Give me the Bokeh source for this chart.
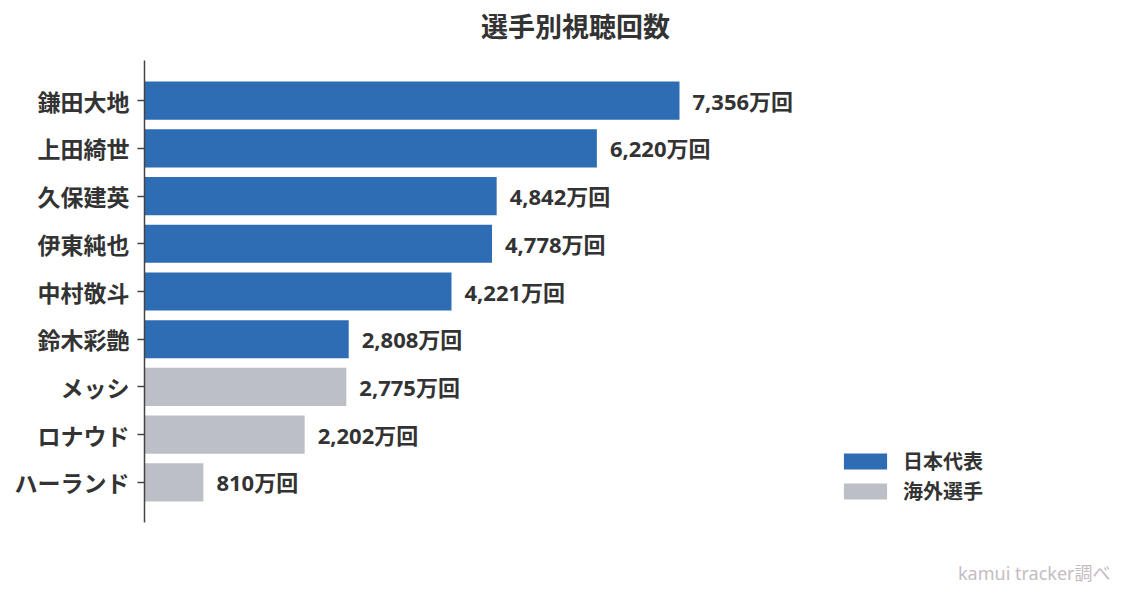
from bokeh.plotting import figure
from bokeh.models import (ColumnDataSource, Range1d, FixedTicker, LabelSet, Legend,
                          LegendItem, Title)
from bokeh.core.properties import value
from bokeh.embed import file_html
from bokeh.resources import INLINE

players = ["鎌田大地", "上田綺世", "久保建英", "伊東純也", "中村敬斗", "鈴木彩艶",
           "メッシ", "ロナウド", "ハーランド"]
views = [7356, 6220, 4842, 4778, 4221, 2808, 2775, 2202, 810]
groups = ["日本代表"] * 6 + ["海外選手"] * 3
group_colors = {"日本代表": "#2e6db4", "海外選手": "#bcbfc6"}
chart_title = "選手別視聴回数"
source_note = "kamui tracker調べ"

FONT = "Noto Sans CJK JP"
NUMFONT = "Noto Sans, Noto Sans CJK JP"
TXT = "#333333"

idx = list(range(len(players)))
labels = [f"{v:,}万回" for v in views]

src = ColumnDataSource(dict(y=idx, v=views, lab=labels))

p = figure(width=1124, height=600, output_backend="svg", toolbar_location=None,
           x_range=Range1d(0, 11852), y_range=Range1d(8.84, -0.84),
           min_border_left=144, min_border_right=118, min_border_top=60,
           min_border_bottom=78, title=chart_title)
p.outline_line_color = None
p.grid.visible = False
p.xaxis.visible = False
p.background_fill_color = "white"
p.border_fill_color = "white"

p.title.align = "center"
p.title.vertical_align = "bottom"
p.title.standoff = 2
p.title.text_font = FONT
p.title.text_font_size = "27px"
p.title.text_font_style = "bold"
p.title.text_color = TXT

# small spacer between the title and the frame
top_spacer = Title(text=" ", text_font_size="10px", standoff=2)
p.add_layout(top_spacer, "above")

renderers = {}
for g in ["日本代表", "海外選手"]:
    sub = ColumnDataSource(dict(
        y=[i for i, gg in zip(idx, groups) if gg == g],
        v=[v for v, gg in zip(views, groups) if gg == g]))
    renderers[g] = p.hbar(y="y", right="v", left=0, height=0.8, source=sub,
                          fill_color=group_colors[g], line_color=None)

ya = p.yaxis[0]
ya.ticker = FixedTicker(ticks=idx)
ya.major_label_overrides = {i: n for i, n in zip(idx, players)}
ya.major_label_text_font = FONT
ya.major_label_text_font_size = "23px"
ya.major_label_text_font_style = "bold"
ya.major_label_text_color = TXT
ya.axis_line_color = "#444444"
ya.axis_line_width = 1.5
ya.major_tick_line_color = "#444444"
ya.major_tick_line_width = 1.5
ya.major_tick_out = 7
ya.major_tick_in = 0
ya.minor_tick_line_color = None
ya.major_label_standoff = 8

ls = LabelSet(x="v", y="y", text="lab", source=src, x_offset=13,
              text_baseline="middle", text_font=value(NUMFONT),
              text_font_size=value("22px"), text_font_style=value("bold"),
              text_color=value(TXT))
p.add_layout(ls)

legend = Legend(items=[LegendItem(label=g, renderers=[renderers[g]]) for g in ["日本代表", "海外選手"]],
                location=(694, 17), orientation="vertical",
                glyph_width=54, glyph_height=20, label_height=20, spacing=1,
                padding=0, margin=0, label_standoff=11,
                label_text_font=FONT, label_text_font_size="20px",
                label_text_font_style="bold", label_text_color=TXT,
                border_line_color=None, background_fill_alpha=0)
p.add_layout(legend)

spacer = Title(text=" ", text_font_size="10px", standoff=22)
p.add_layout(spacer, "below")
note = Title(text=source_note, align="right", offset=-104, standoff=2,
             vertical_align="bottom", text_font=NUMFONT, text_font_size="18px",
             text_color="#c4bcc4", text_font_style="normal")
p.add_layout(note, "below")

open("out.html", "w").write(file_html(p, INLINE))
